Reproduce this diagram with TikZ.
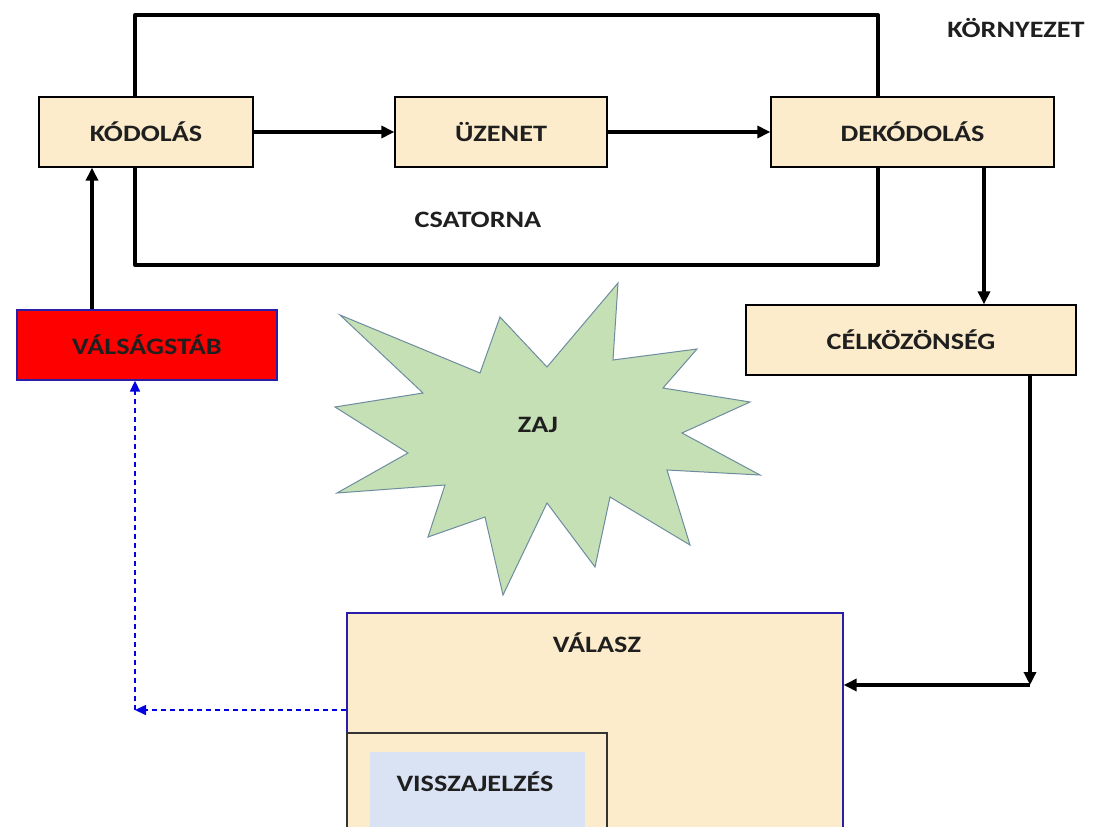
\documentclass[tikz,border=0pt]{standalone}
\usepackage{fontspec}
\setmainfont{Carlito}[FakeStretch=1.2]
\usetikzlibrary{arrows.meta}
\definecolor{beige}{RGB}{252,236,203}
\definecolor{starfill}{RGB}{197,224,180}
\definecolor{stardraw}{RGB}{110,140,160}
\definecolor{fbblue}{RGB}{218,227,243}
\definecolor{dblue}{RGB}{0,0,225}
\definecolor{bordblue}{RGB}{40,30,170}
\tikzset{
  lbl/.style={font=\fontsize{23.5}{25}\selectfont\bfseries, text=black!88},
  box/.style={draw=black, line width=1.3pt, fill=beige, lbl, inner sep=0pt},
  thickline/.style={line width=4pt, black},
  arr/.style={line width=4pt, black, -{Triangle[length=13pt,width=12pt]}},
  darr/.style={line width=1.6pt, dblue, dash pattern=on 5pt off 4pt, -{Triangle[length=11pt,width=10pt]}}
}
\begin{document}
\begin{tikzpicture}[x=1pt,y=-1pt]
\useasboundingbox (0,0) rectangle (1095,827);
\fill[white] (0,0) rectangle (1095,827);
% channel frame
\draw[thickline, line join=round] (135,15) rectangle (878,265);
% boxes
\node[box, minimum width=214pt, minimum height=70pt] (kod) at (146,132) {KÓDOLÁS};
\node[box, minimum width=212pt, minimum height=70pt] (uz) at (501,132) {ÜZENET};
\node[box, minimum width=283pt, minimum height=70pt] (dek) at (912.5,132) {DEKÓDOLÁS};
\node[box, minimum width=330pt, minimum height=70pt] (cel) at (911,340) {CÉLKÖZÖNSÉG};
\node[box, draw=bordblue, fill=red, minimum width=260pt, minimum height=70pt] (vst) at (147,345) {VÁLSÁGSTÁB};
% response box
\node[draw=bordblue, line width=1.3pt, fill=beige, minimum width=496pt, minimum height=216pt, inner sep=0pt] (valasz) at (595,721) {};
\node[draw=black!80, line width=1.2pt, fill=beige, minimum width=260pt, minimum height=96pt, inner sep=0pt] (inner) at (477,781) {};
\node[fill=fbblue, minimum width=215pt, minimum height=76pt, inner sep=0pt] (visz) at (477.5,790) {};
\node[lbl] (valaszt) at (597,643) {VÁLASZ};
\node[lbl] (viszt) at (475,782) {VISSZAJELZÉS};
% labels
\node[lbl] (korny) at (1016,28) {KÖRNYEZET};
\node[lbl] (csat) at (478,220) {CSATORNA};
% noise star
\draw[fill=starfill, draw=stardraw, line width=1pt, line join=miter]
 (340,315) -- (480,373) -- (500,317) -- (547,367) -- (618,283) -- (613,360) -- (697,349) -- (663,388) -- (750,402) -- (682,433) -- (760,475) -- (667,470) -- (690,545) -- (610,497) -- (595,567) -- (547,503) -- (503,595) -- (485,517) -- (428,537) -- (445,485) -- (337,493) -- (408,453) -- (335,407) -- (423,393) -- cycle;
\node[lbl] (zaj) at (538,425) {ZAJ};
% coordinates
\coordinate (xa) at (92,0);
\coordinate (xb) at (984,0);
\coordinate (xc) at (1030,0);
\coordinate (cr1) at (1030,685);
\coordinate (cr2) at (135,710);
% arrows
\draw[arr] (kod.east) -- (uz.west);
\draw[arr] (uz.east) -- (dek.west);
\draw[arr] (dek.south -| xb) -- (cel.north -| xb);
\draw[arr] (cel.south -| xc) -- (cr1);
\draw[arr] (cr1) -- (valasz.east |- cr1);
\draw[arr] (vst.north -| xa) -- (kod.south -| xa);
\draw[darr] (valasz.west |- cr2) -- (cr2);
\draw[darr] (cr2) -- (vst.south -| cr2);
\end{tikzpicture}
\end{document}
